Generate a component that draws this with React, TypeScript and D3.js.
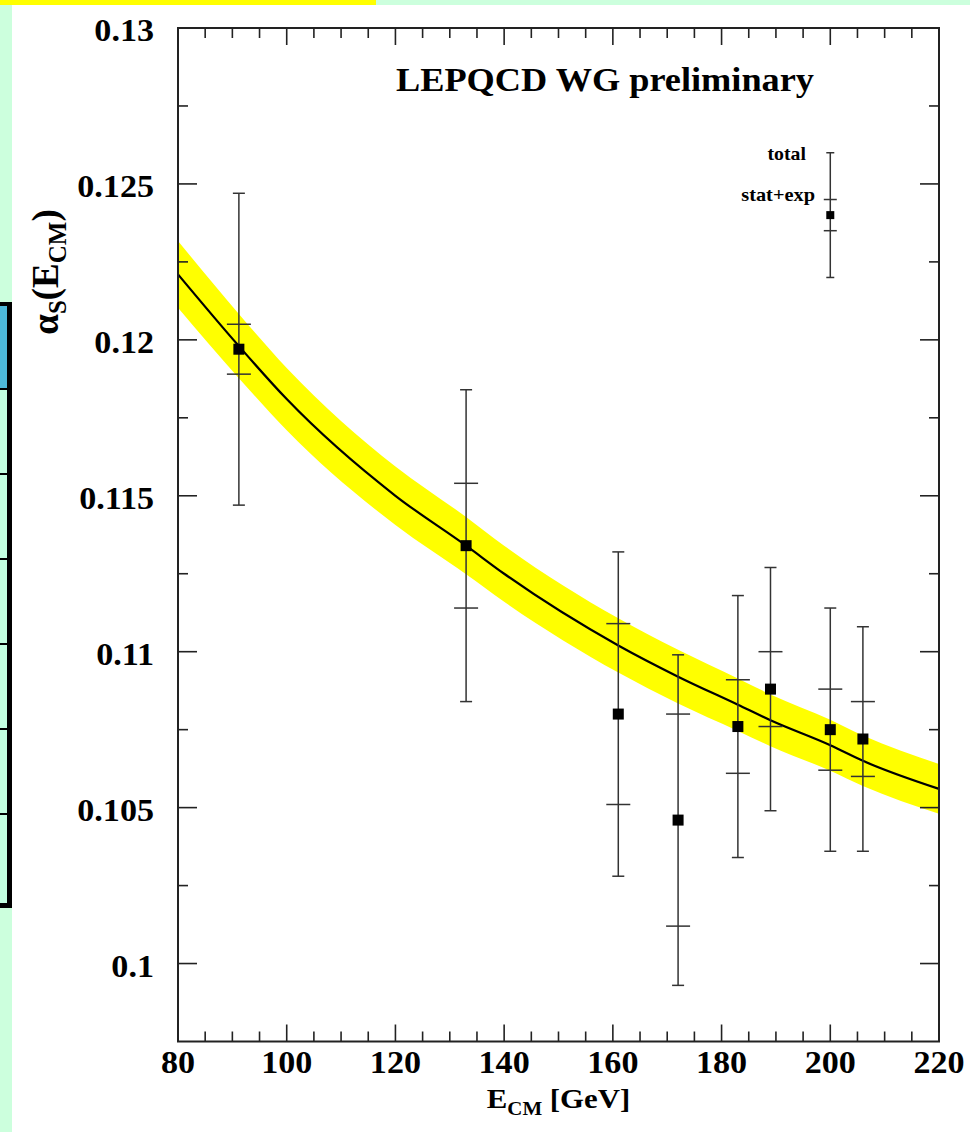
import React from 'react';
import * as d3 from 'd3';

// ---- data ----
const energies = [91.2, 133, 161, 172, 183, 189, 200, 206];
const alphaS = [0.1197, 0.1134, 0.108, 0.1046, 0.1076, 0.1088, 0.1075, 0.1072];
const statExpErr = [0.0008, 0.002, 0.0029, 0.0034, 0.0015, 0.0012, 0.0013, 0.0012];
const totalErr = [0.005, 0.005, 0.0052, 0.0053, 0.0042, 0.0039, 0.0039, 0.0036];

// QCD running curve
const curveE = [80, 91.2, 100, 120, 133, 140, 161, 172, 183, 189, 200, 206, 220];
const curveAlpha = [0.1221, 0.1198, 0.1181, 0.115, 0.1134, 0.1125, 0.1102, 0.1092, 0.1083, 0.1078, 0.107, 0.1065, 0.1056];
const bandHalfWidth = [0.00107, 0.00103, 0.001, 0.00094, 0.00092, 0.0009, 0.00087, 0.00086, 0.00084, 0.00083, 0.00082, 0.00081, 0.0008];

// legend marker
const legendE = 200;
const legendAlpha = 0.124;
const legendStat = 0.0005;
const legendTotal = 0.002;

// axes
const xDomain = [80, 220];
const yDomain = [0.0975, 0.13];
const xMajorTicks = [80, 100, 120, 140, 160, 180, 200, 220];
const xTickLabels = ['80', '100', '120', '140', '160', '180', '200', '220'];
const xMinorTicks = [85, 90, 95, 105, 110, 115, 125, 130, 135, 145, 150, 155, 165, 170, 175, 185, 190, 195, 205, 210, 215];
const yMajorTicks = [0.1, 0.105, 0.11, 0.115, 0.12, 0.125, 0.13];
const yTickLabels = ['0.1', '0.105', '0.11', '0.115', '0.12', '0.125', '0.13'];
const yMinorTicks = [0.1025, 0.1075, 0.1125, 0.1175, 0.1225, 0.1275];

const W = 970;
const H = 1132;
const L = 178;
const R = 939;
const T = 28;
const B = 1041.5;
const FONT = '"Liberation Serif", "Times New Roman", Times, serif';
const SX = 1.1;
const AXIS = '#222';
const BAR = '#333';

function STxt(props: { x: number; y: number; anchor?: string; size: number; children: any; sx?: number }) {
  const { x, y, anchor = 'start', size, children, sx = SX } = props;
  return (
    <text
      transform={`translate(${x},${y}) scale(${sx},1)`}
      textAnchor={anchor}
      fontFamily={FONT}
      fontWeight="bold"
      fontSize={size}
      fill="#000"
    >
      {children}
    </text>
  );
}

export default function App() {
  const x = d3.scaleLinear().domain(xDomain).range([L, R]);
  const y = d3.scaleLinear().domain(yDomain).range([B, T]);

  const curveData = curveE.map((e, i) => ({ e, a: curveAlpha[i], d: bandHalfWidth[i] }));
  const area = d3
    .area<{ e: number; a: number; d: number }>()
    .x((d) => x(d.e))
    .y0((d) => y(d.a - d.d))
    .y1((d) => y(d.a + d.d))
    .curve(d3.curveMonotoneX);
  const line = d3
    .line<{ e: number; a: number; d: number }>()
    .x((d) => x(d.e))
    .y((d) => y(d.a))
    .curve(d3.curveMonotoneX);

  const rowLines = [388, 473, 558, 643, 728, 813];

  const errBar = (e: number, a: number, st: number, tot: number, key: string, cap1: number, cap2: number, sq: number) => {
    const cx = x(e);
    return (
      <g key={key} stroke={BAR} strokeWidth={1.5}>
        <line x1={cx} x2={cx} y1={y(a + tot)} y2={y(a - tot)} />
        <line x1={cx - cap1} x2={cx + cap1} y1={y(a + tot)} y2={y(a + tot)} />
        <line x1={cx - cap1} x2={cx + cap1} y1={y(a - tot)} y2={y(a - tot)} />
        <line x1={cx - cap2} x2={cx + cap2} y1={y(a + st)} y2={y(a + st)} />
        <line x1={cx - cap2} x2={cx + cap2} y1={y(a - st)} y2={y(a - st)} />
        <rect x={cx - sq / 2} y={y(a) - sq / 2} width={sq} height={sq} fill="#000" stroke="none" />
      </g>
    );
  };

  return (
    <svg
      width={W}
      height={H}
      viewBox={`0 0 ${W} ${H}`}
      style={{ position: 'absolute', left: 0, top: 0, display: 'block' }}
    >
      {/* page background */}
      <rect x={0} y={0} width={W} height={H} fill="#ffffff" />
      <rect x={0} y={0} width={12} height={H} fill="#ccffdd" />
      <rect x={0} y={0} width={W} height={5} fill="#ccffdd" />
      <rect x={0} y={0} width={376} height={5} fill="#ffff00" />

      {/* left side table fragment */}
      <rect x={0} y={302} width={12} height={606} fill="#c2ffe0" />
      <rect x={0} y={306} width={7} height={82} fill="#4db8d8" />
      {rowLines.map((ry) => (
        <rect key={ry} x={0} y={ry} width={9} height={2} fill="#000" />
      ))}
      <rect x={0} y={302} width={12} height={4} fill="#000" />
      <rect x={0} y={903} width={12} height={5} fill="#000" />
      <rect x={7} y={302} width={5} height={606} fill="#000" />

      {/* band and curve */}
      <path d={area(curveData) || ''} fill="#ffff00" stroke="none" />
      <path d={line(curveData) || ''} fill="none" stroke="#000" strokeWidth={2.2} />

      {/* data points */}
      {energies.map((e, i) => errBar(e, alphaS[i], statExpErr[i], totalErr[i], `p${i}`, 6, 12, 11))}

      {/* legend */}
      {errBar(legendE, legendAlpha, legendStat, legendTotal, 'legend', 4, 6.5, 8)}
      <STxt x={806} y={160} anchor="end" size={18}>total</STxt>
      <STxt x={815} y={201} anchor="end" size={18.5}>stat+exp</STxt>

      {/* frame */}
      <rect x={L} y={T} width={R - L} height={B - T} fill="none" stroke={AXIS} strokeWidth={2} />

      {/* ticks */}
      <g stroke={AXIS} strokeWidth={1.6}>
        {xMajorTicks.map((v) => (
          <g key={`xm${v}`}>
            <line x1={x(v)} x2={x(v)} y1={B} y2={B - 17} />
            <line x1={x(v)} x2={x(v)} y1={T} y2={T + 17} />
          </g>
        ))}
        {xMinorTicks.map((v) => (
          <g key={`xn${v}`}>
            <line x1={x(v)} x2={x(v)} y1={B} y2={B - 10} />
            <line x1={x(v)} x2={x(v)} y1={T} y2={T + 10} />
          </g>
        ))}
        {yMajorTicks.map((v) => (
          <g key={`ym${v}`}>
            <line x1={L} x2={L + 19} y1={y(v)} y2={y(v)} />
            <line x1={R} x2={R - 19} y1={y(v)} y2={y(v)} />
          </g>
        ))}
        {yMinorTicks.map((v) => (
          <g key={`yn${v}`}>
            <line x1={L} x2={L + 10} y1={y(v)} y2={y(v)} />
            <line x1={R} x2={R - 10} y1={y(v)} y2={y(v)} />
          </g>
        ))}
      </g>

      {/* tick labels */}
      {yMajorTicks.map((v, i) => (
        <STxt key={`yl${v}`} x={154} y={y(v) + 13} anchor="end" size={31}>
          {yTickLabels[i]}
        </STxt>
      ))}
      {xMajorTicks.map((v, i) => (
        <STxt key={`xl${v}`} x={x(v)} y={1073} anchor="middle" size={31}>
          {xTickLabels[i]}
        </STxt>
      ))}

      {/* title */}
      <STxt x={605} y={91} anchor="middle" size={33}>LEPQCD WG preliminary</STxt>

      {/* x axis title */}
      <text
        transform={`translate(${(L + R) / 2},1108) scale(${SX},1)`}
        textAnchor="middle"
        fontFamily={FONT}
        fontWeight="bold"
        fontSize={28}
      >
        <tspan>E</tspan>
        <tspan fontSize={19} dy={7}>CM</tspan>
        <tspan dy={-7}> [GeV]</tspan>
      </text>

      {/* y axis title */}
      <text
        transform={`translate(58,272) rotate(-90)`}
        textAnchor="middle"
        fontFamily={FONT}
        fontWeight="bold"
        fontSize={37}
      >
        <tspan>α</tspan>
        <tspan fontSize={25} dy={8}>S</tspan>
        <tspan dy={-8}>(E</tspan>
        <tspan fontSize={25} dy={8}>CM</tspan>
        <tspan dy={-8}>)</tspan>
      </text>
    </svg>
  );
}
